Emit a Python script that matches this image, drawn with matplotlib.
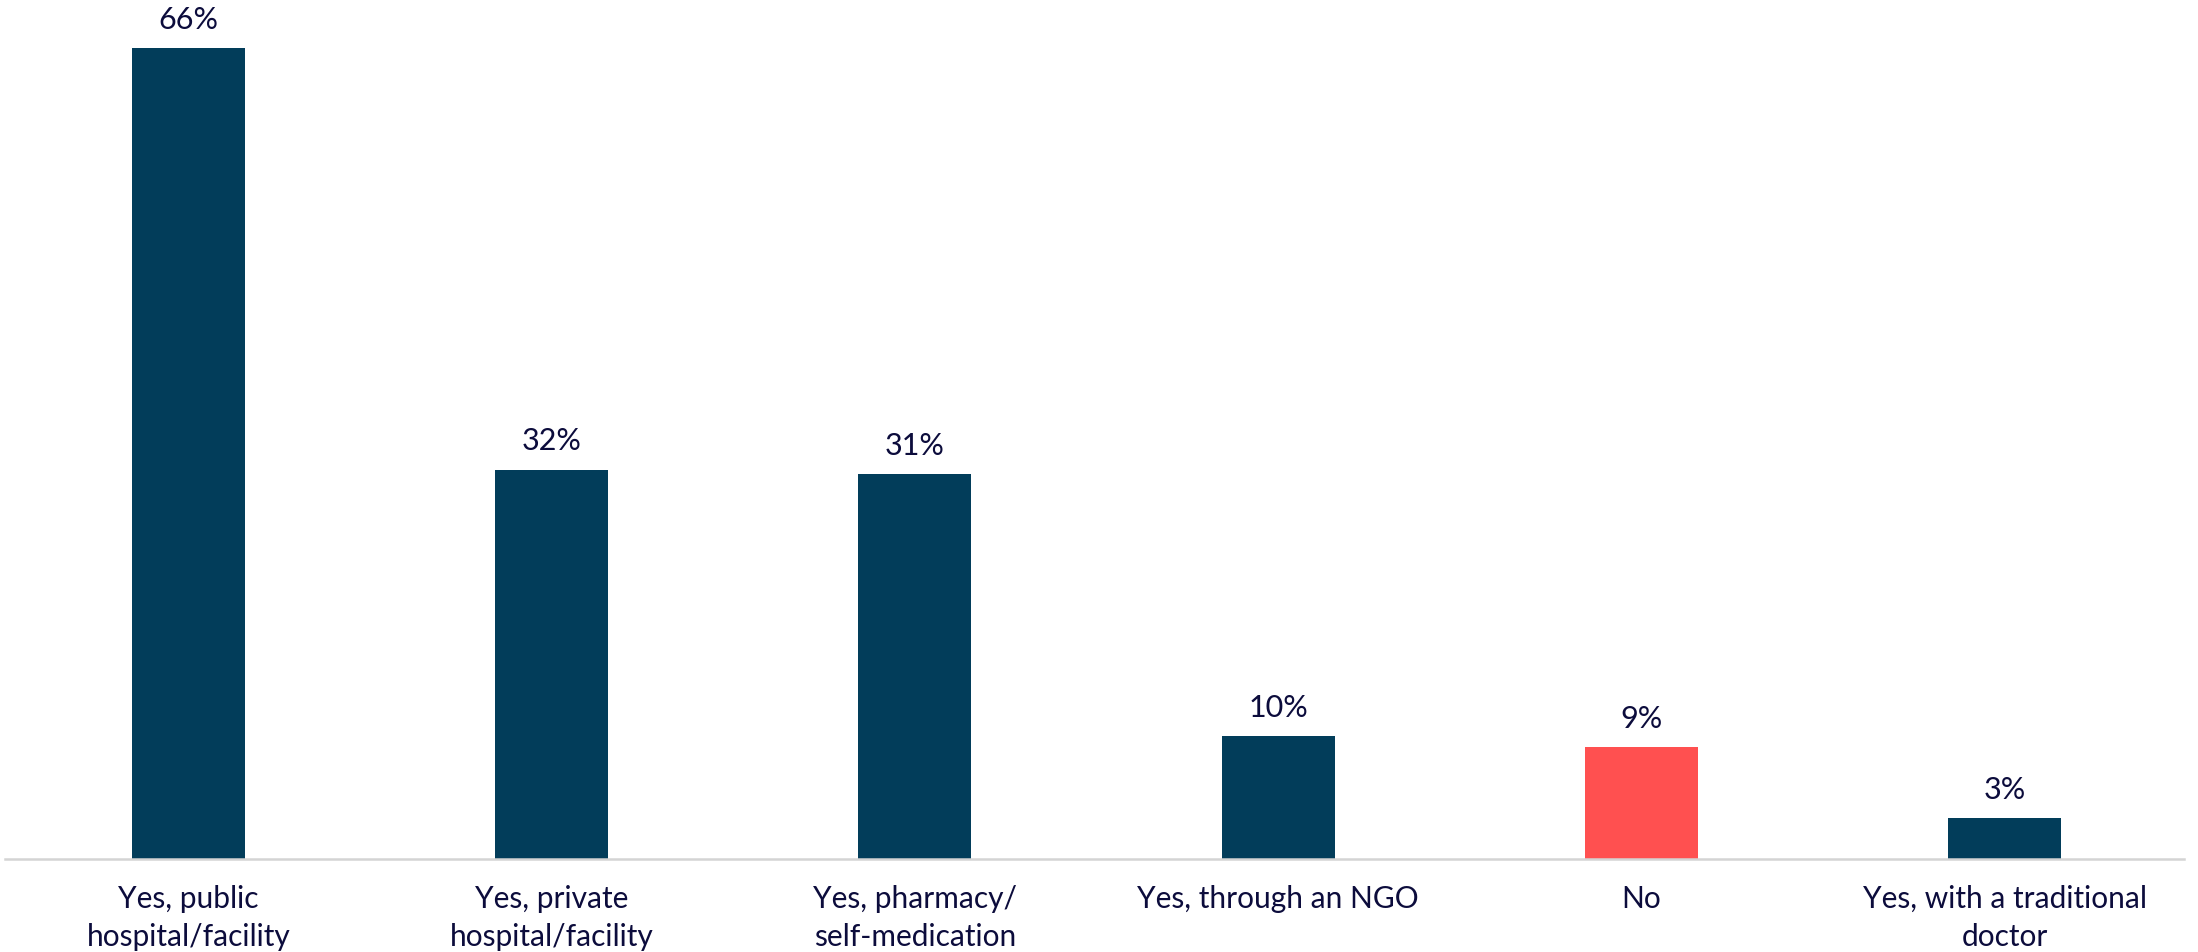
import matplotlib
matplotlib.use("Agg")
import matplotlib.pyplot as plt

categories = [
    "Yes, public\nhospital/facility",
    "Yes, private\nhospital/facility",
    "Yes, pharmacy/\nself-medication",
    "Yes, through an NGO",
    "No",
    "Yes, with a traditional\ndoctor",
]
# bar heights; labels are the rounded values shown
values = [66, 31.7, 31.3, 10.0, 9.1, 3.3]
labels = ["66%", "32%", "31%", "10%", "9%", "3%"]
colors = ["#023d5a", "#023d5a", "#023d5a", "#023d5a", "#ff5050", "#023d5a"]

text_color = "#0c0c3c"
plt.rcParams["font.family"] = ["Lato", "DejaVu Sans"]

fig = plt.figure(figsize=(21.98, 9.53), dpi=100)
ax = fig.add_axes([0.0023, 0.0976, 0.9914, 0.9024])

x = range(len(categories))
bars = ax.bar(x, values, width=0.311, color=colors)

for b, v, lab in zip(bars, values, labels):
    ax.annotate(lab, (b.get_x() + b.get_width() / 2, v),
                xytext=(0, 11), textcoords="offset points",
                ha="center", va="bottom", fontsize=22, color=text_color)

ax.set_xlim(-0.505, 5.494)
ax.set_ylim(0, 70)
ax.set_xticks(list(x))
ax.set_xticklabels(categories, fontsize=21.5, color=text_color, linespacing=1.45)
ax.tick_params(axis="x", length=0, pad=18)
ax.set_yticks([])

for side in ["top", "right", "left"]:
    ax.spines[side].set_visible(False)
ax.spines["bottom"].set_color("#d4d4d4")
ax.spines["bottom"].set_linewidth(1.8)

fig.savefig("out.png", dpi=100)
